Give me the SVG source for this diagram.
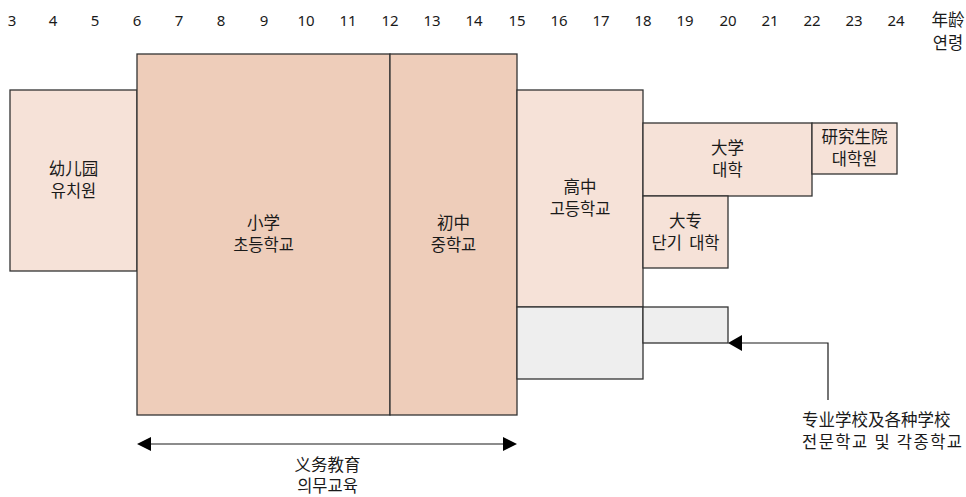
<svg xmlns="http://www.w3.org/2000/svg" width="966" height="497" viewBox="0 0 966 497">
<style>
text{font-family:"Noto Sans","Noto Sans CJK SC",sans-serif;font-size:16.5px;fill:#1a1a1a;text-anchor:middle}
.age{font-size:15px}
.l{fill:#f6e2d8;stroke:#333333;stroke-width:1.3}
.d{fill:#eecdba;stroke:#333333;stroke-width:1.3}
.g{fill:#eeeeee;stroke:#333333;stroke-width:1.3}
.c{fill:none;stroke:#1a1a1a;stroke-width:1.2}
</style>
<g id="axis">
<text class="age" x="12" y="26">3</text>
<text class="age" x="53" y="26">4</text>
<text class="age" x="95" y="26">5</text>
<text class="age" x="137" y="26">6</text>
<text class="age" x="179" y="26">7</text>
<text class="age" x="221" y="26">8</text>
<text class="age" x="264" y="26">9</text>
<text class="age" x="306" y="26">10</text>
<text class="age" x="348" y="26">11</text>
<text class="age" x="390" y="26">12</text>
<text class="age" x="432" y="26">13</text>
<text class="age" x="474" y="26">14</text>
<text class="age" x="517" y="26">15</text>
<text class="age" x="559" y="26">16</text>
<text class="age" x="601" y="26">17</text>
<text class="age" x="643" y="26">18</text>
<text class="age" x="685" y="26">19</text>
<text class="age" x="728" y="26">20</text>
<text class="age" x="770" y="26">21</text>
<text class="age" x="812" y="26">22</text>
<text class="age" x="854" y="26">23</text>
<text class="age" x="896" y="26">24</text>
<text x="948" y="26">年龄</text>
<text x="948" y="49">연령</text>
</g>
<g id="kindergarten">
<rect class="l" x="10" y="90" width="127" height="181"/>
<text x="73.5" y="175">幼儿园</text>
<text x="73.5" y="197">유치원</text>
</g>
<g id="primary">
<rect class="d" x="137" y="54" width="253" height="361"/>
<text x="263.5" y="229">小学</text>
<text x="263.5" y="251">초등학교</text>
</g>
<g id="middle">
<rect class="d" x="390" y="54" width="127" height="361"/>
<text x="453.5" y="229">初中</text>
<text x="453.5" y="251">중학교</text>
</g>
<g id="high">
<rect class="l" x="517" y="90" width="126" height="217"/>
<text x="580" y="193">高中</text>
<text x="580" y="215">고등학교</text>
</g>
<g id="university">
<rect class="l" x="643" y="123" width="169" height="73"/>
<text x="727.5" y="154">大学</text>
<text x="727.5" y="176">대학</text>
</g>
<g id="graduate">
<rect class="l" x="812" y="123" width="85" height="51"/>
<text x="854.5" y="143">研究生院</text>
<text x="854.5" y="165">대학원</text>
</g>
<g id="college">
<rect class="l" x="643" y="196" width="85" height="72"/>
<text x="685.5" y="226.5">大专</text>
<text x="685.5" y="248.5" style="word-spacing:3px">단기 대학</text>
</g>
<g id="vocational-high">
<rect class="g" x="517" y="307" width="126" height="72"/>
</g>
<g id="vocational-post">
<rect class="g" x="643" y="307" width="85" height="36"/>
</g>
<g id="connectors">
<line class="c" x1="151" y1="444" x2="503" y2="444"/>
<path d="M137,444 L151,437 L151,451 Z" fill="#000"/>
<path d="M517,444 L503,437 L503,451 Z" fill="#000"/>
<polyline class="c" points="828,400 828,343 742,343"/>
<path d="M728,343 L742,335 L742,351 Z" fill="#000"/>
</g>
<g id="labels">
<text x="327.5" y="471">义务教育</text>
<text x="327.5" y="492">의무교육</text>
<text x="802" y="426" style="text-anchor:start">专业学校及各种学校</text>
<text x="802" y="448" style="text-anchor:start" textLength="160" lengthAdjust="spacing">전문학교 및 각종학교</text>
</g>
</svg>
